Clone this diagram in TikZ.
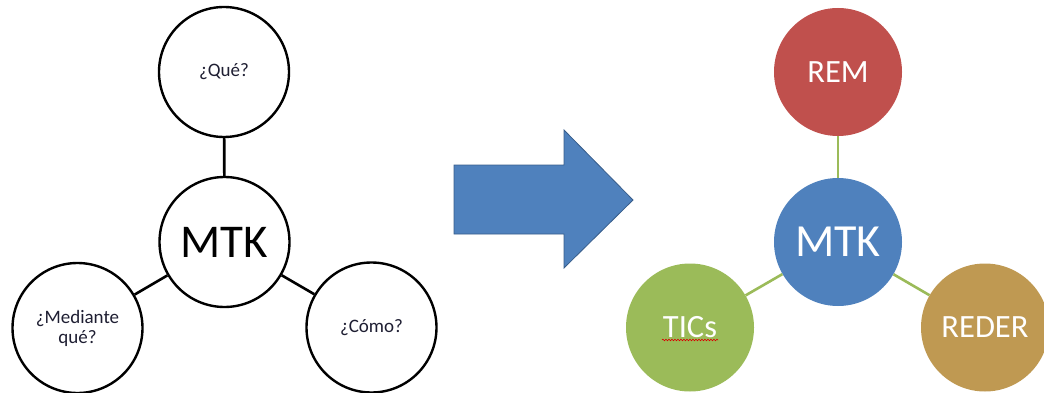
\documentclass[tikz,border=0pt]{standalone}
\usepackage{fontspec}
\setmainfont{Carlito}
\usetikzlibrary{decorations.pathmorphing}
\definecolor{remred}{RGB}{192,80,77}
\definecolor{mtkblue}{RGB}{79,129,189}
\definecolor{ticgreen}{RGB}{155,187,89}
\definecolor{redertan}{RGB}{191,153,82}
\definecolor{arrowedge}{RGB}{56,93,138}
\definecolor{inktext}{RGB}{30,30,50}
\begin{document}
\begin{tikzpicture}[x=1pt,y=-1pt,
  qcircle/.style={circle,draw=black,line width=2.4pt,fill=white,minimum size=130pt,inner sep=0pt,
    font=\fontsize{19}{20}\selectfont,text=inktext,align=center},
  bigcircle/.style={qcircle,font=\fontsize{47}{50}\selectfont,text=black},
  colcircle/.style={circle,minimum size=128pt,inner sep=0pt,text=white,
    font=\fontsize{32.5}{35}\selectfont},
  blackline/.style={line width=2.6pt,draw=black},
  greenline/.style={line width=2.6pt,draw=ticgreen}]
\useasboundingbox (0,0) rectangle (1044,393);

% left: questions around MTK
\node[bigcircle] (m1) at (224.5,242) {MTK};
\node[qcircle] (que) at (224,72) {¿Qué?};
\node[qcircle] (med) at (77.5,328) {¿Mediante\\qué?};
\node[qcircle] (como) at (371.5,327.5) {¿Cómo?};
\draw[blackline] (m1) -- (que);
\draw[blackline] (m1) -- (med);
\draw[blackline] (m1) -- (como);

% block arrow
\draw[fill=mtkblue,draw=arrowedge,line width=0.8pt,line join=miter]
  (454,165) -- (564,165) -- (564,130) -- (633,200) -- (564,268) -- (564,234) -- (454,234) -- cycle;

% right: answers around MTK
\node[colcircle,fill=mtkblue,font=\fontsize{46}{50}\selectfont] (m2) at (838,242) {MTK};
\node[colcircle,fill=remred] (rem) at (838,72) {REM};
\node[colcircle,fill=ticgreen] (tics) at (690,327.5) {TICs};
\node[colcircle,fill=redertan] (reder) at (985,327.5) {REDER};
\draw[greenline] (m2) -- (rem);
\draw[greenline] (m2) -- (tics);
\draw[greenline] (m2) -- (reder);

% spell-check squiggle under TICs
\draw[red!85!black,line width=0.6pt,decorate,decoration={snake,amplitude=0.8pt,segment length=3pt}]
  ([xshift=-28pt,yshift=-12.5pt]tics.center) -- ([xshift=28pt,yshift=-12.5pt]tics.center);
\end{tikzpicture}
\end{document}
